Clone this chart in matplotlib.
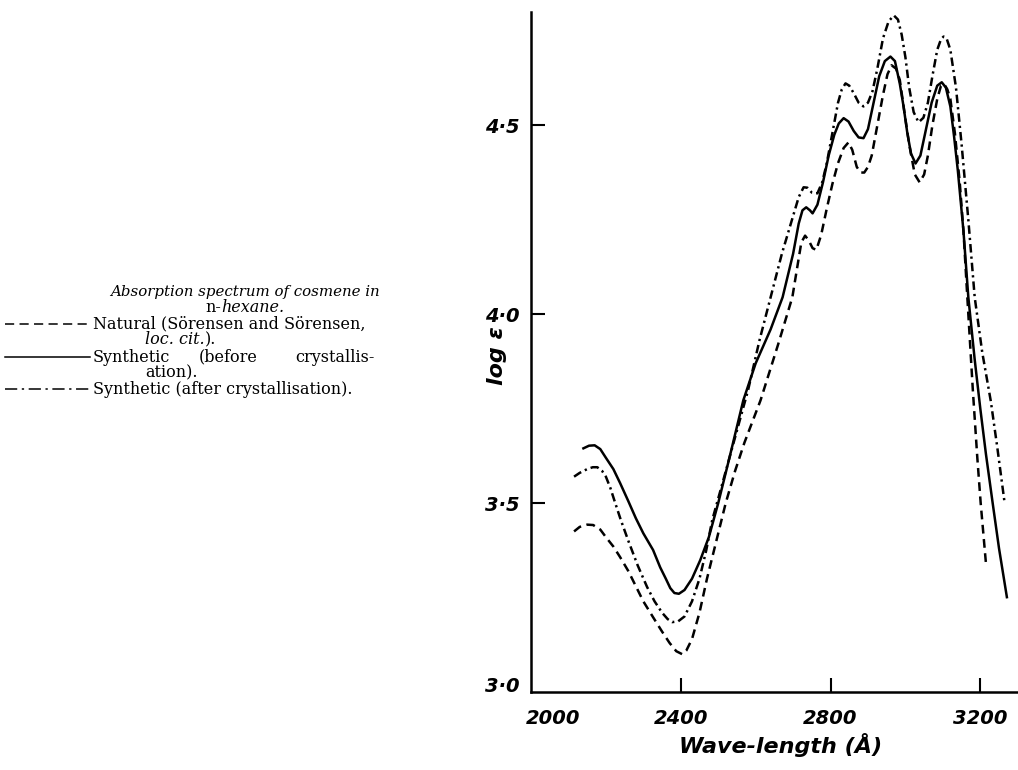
"""Absorption spectrum of cosmene in n-hexane (log ε vs wave-length)."""
import matplotlib

matplotlib.use("Agg")
import matplotlib.pyplot as plt
from matplotlib.lines import Line2D

W, H = 1018, 770

# wave-length (Å) and log ε
natural_wl = [2115, 2130, 2150, 2166, 2185, 2200, 2220, 2238, 2260, 2280, 2300,
              2326, 2350, 2370, 2388, 2404, 2415, 2430, 2450, 2470, 2495, 2520,
              2545, 2570, 2613, 2660, 2698, 2712, 2722, 2732, 2742, 2752, 2762,
              2775, 2790, 2805, 2820, 2835, 2848, 2858, 2870, 2880, 2890, 2900,
              2910, 2925, 2940, 2952, 2963, 2975, 2985, 2998, 3010, 3025, 3038,
              3050, 3060, 3072, 3085, 3095, 3103, 3112, 3120, 3132, 3145, 3155,
              3165, 3180, 3192, 3201, 3215]
natural_le = [3.425, 3.437, 3.443, 3.442, 3.43, 3.41, 3.385, 3.357, 3.32, 3.28, 3.24,
              3.198, 3.16, 3.13, 3.108, 3.10, 3.11, 3.14, 3.21, 3.30, 3.40, 3.50,
              3.585, 3.66, 3.772, 3.92, 4.045, 4.13, 4.19, 4.208, 4.195, 4.175, 4.17,
              4.21, 4.28, 4.345, 4.40, 4.44, 4.455, 4.435, 4.39, 4.375, 4.375, 4.39,
              4.42, 4.50, 4.58, 4.635, 4.659, 4.65, 4.62, 4.53, 4.45, 4.37, 4.349,
              4.37, 4.42, 4.50, 4.57, 4.605, 4.61, 4.595, 4.57, 4.48, 4.35, 4.22,
              4.05, 3.80, 3.62, 3.50, 3.341]

before_wl = [2140, 2155, 2170, 2185, 2200, 2220, 2238, 2260, 2280, 2300, 2326,
             2345, 2360, 2372, 2383, 2395, 2410, 2430, 2452, 2475, 2500, 2530,
             2567, 2600, 2640, 2672, 2700, 2715, 2725, 2735, 2745, 2752, 2765,
             2780, 2795, 2810, 2822, 2835, 2848, 2862, 2875, 2888, 2900, 2915,
             2930, 2945, 2960, 2972, 2985, 2995, 3005, 3015, 3027, 3040, 3055,
             3070, 3085, 3097, 3108, 3120, 3130, 3140, 3155, 3168, 3185, 3200,
             3215, 3233, 3250, 3271]
before_le = [3.645, 3.652, 3.653, 3.643, 3.62, 3.59, 3.553, 3.505, 3.46, 3.42, 3.376,
             3.33, 3.30, 3.275, 3.262, 3.26, 3.27, 3.30, 3.349, 3.41, 3.50, 3.62,
             3.772, 3.87, 3.96, 4.045, 4.16, 4.24, 4.275, 4.283, 4.275, 4.267, 4.29,
             4.35, 4.42, 4.475, 4.505, 4.519, 4.51, 4.485, 4.468, 4.466, 4.49, 4.56,
             4.63, 4.67, 4.682, 4.67, 4.61, 4.55, 4.48, 4.425, 4.399, 4.42, 4.49,
             4.56, 4.605, 4.614, 4.60, 4.55, 4.47, 4.38, 4.22, 4.045, 3.88, 3.75,
             3.63, 3.50, 3.38, 3.251]

after_wl = [2115, 2130, 2150, 2165, 2177, 2190, 2200, 2212, 2225, 2240, 2260,
            2285, 2310, 2330, 2350, 2365, 2377, 2393, 2410, 2430, 2450, 2468,
            2484, 2505, 2530, 2555, 2580, 2610, 2640, 2670, 2700, 2715, 2728,
            2738, 2750, 2765, 2778, 2790, 2805, 2820, 2830, 2840, 2850, 2862,
            2875, 2888, 2900, 2912, 2925, 2940, 2955, 2969, 2980, 2990, 3000,
            3010, 3022, 3035, 3048, 3060, 3072, 3085, 3095, 3102, 3110, 3120,
            3135, 3150, 3168, 3185, 3205, 3228, 3245, 3265]
after_le = [3.57, 3.58, 3.59, 3.595, 3.595, 3.585, 3.57, 3.54, 3.50, 3.455, 3.40,
            3.335, 3.278, 3.24, 3.21, 3.193, 3.185, 3.187, 3.20, 3.24, 3.30, 3.375,
            3.455, 3.53, 3.62, 3.71, 3.80, 3.93, 4.045, 4.16, 4.26, 4.31, 4.336,
            4.335, 4.322, 4.32, 4.35, 4.40, 4.48, 4.56, 4.595, 4.611, 4.605, 4.585,
            4.56, 4.55, 4.56, 4.59, 4.65, 4.73, 4.775, 4.791, 4.78, 4.74, 4.68,
            4.60, 4.535, 4.508, 4.52, 4.56, 4.63, 4.70, 4.728, 4.735, 4.73, 4.70,
            4.60, 4.45, 4.25, 4.045, 3.90, 3.77, 3.65, 3.50]

x_ticks = [2000, 2400, 2800, 3200]
x_labels = ["2000", "2400", "2800", "3200"]
y_ticks = [3.0, 3.5, 4.0, 4.5]
y_labels = ["3·0", "3·5", "4·0", "4·5"]

DASHED = (3.5, 2.2)
DASHDOT = (3.4, 1.6, 0.9, 1.6)
LW = 1.8


def px(x, y):
    """pixel (from top-left) -> figure fraction"""
    return x / W, 1 - y / H


def text_run(fig, x, y, pieces, ha="left", **kw):
    """put (string, style) pieces side by side starting at pixel x"""
    r = fig.canvas.get_renderer()
    arts = []
    for s, style in pieces:
        t = fig.text(*px(x, y), s, ha="left", va="center", style=style, **kw)
        x += t.get_window_extent(r).width
        arts.append(t)
    if ha == "center":
        shift = (x - arts[0].get_window_extent(r).x0) / 2
        for t in arts:
            tx, ty = t.get_position()
            t.set_position((tx - shift / W, ty))


fig = plt.figure(figsize=(W / 100, H / 100), dpi=100)
x0, y0 = px(531, 692)
x1, y1 = px(W + 2, 12)
ax = fig.add_axes([x0, y0, x1 - x0, y1 - y0])

ax.plot(natural_wl, natural_le, color="black", lw=LW, dashes=DASHED)
ax.plot(before_wl, before_le, color="black", lw=LW)
ax.plot(after_wl, after_le, color="black", lw=LW, dashes=DASHDOT)

ax.set_xlim(2000, 3306)
ax.set_ylim(3.0, 4.8)
for s in ("top", "right"):
    ax.spines[s].set_visible(False)
for s in ("left", "bottom"):
    ax.spines[s].set_linewidth(1.8)

tick_font = dict(family="DejaVu Sans", weight="bold", style="oblique", size=14)
ax.set_xticks(x_ticks[1:])
ax.set_xticklabels(x_labels[1:], **tick_font)
ax.set_yticks(y_ticks[1:])
ax.set_yticklabels(y_labels[1:], **tick_font)
ax.tick_params(axis="x", direction="in", length=10, width=1.5, pad=12)
ax.tick_params(axis="y", direction="in", length=10, width=1.5, pad=8)
# origin labels sit at the corner
ax.annotate(y_labels[0], xy=(0, 0), xycoords="axes fraction",
            xytext=(-8, 4), textcoords="offset points",
            ha="right", va="center", **tick_font)
ax.annotate(x_labels[0], xy=(0, 0), xycoords="axes fraction",
            xytext=(-4, -12), textcoords="offset points",
            ha="left", va="top", **tick_font)

ax.set_xlabel("Wave-length (Å)", family="DejaVu Sans", weight="bold",
              style="oblique", size=16)
ax.xaxis.set_label_coords(0.51, -0.06)
ax.set_ylabel("log ε", family="DejaVu Sans", weight="bold", style="oblique",
              size=16)
ax.yaxis.set_label_coords(-0.05, 0.495)

# key / caption on the left
serif = dict(family="DejaVu Serif", size=11.5)
fig.text(*px(245, 292), "Absorption spectrum of cosmene in", ha="center",
         va="center", style="italic", family="DejaVu Serif", size=10.8)
text_run(fig, 245, 307, [("n-", "normal"), ("hexane.", "italic")],
         ha="center", **serif)

fig.text(*px(93, 324), "Natural (Sörensen and Sörensen,", ha="left",
         va="center", **serif)
text_run(fig, 145, 340, [("loc. cit.", "italic"), (").", "normal")], **serif)
fig.text(*px(93, 357), "Synthetic", ha="left", va="center", **serif)
fig.text(*px(228, 357), "(before", ha="center", va="center", **serif)
fig.text(*px(375, 357), "crystallis-", ha="right", va="center", **serif)
fig.text(*px(145, 373), "ation).", ha="left", va="center", **serif)
fig.text(*px(93, 389), "Synthetic (after crystallisation).", ha="left",
         va="center", **serif)

for yy, dash in ((324, (6, 3.5)), (357, None), (389, (8, 3, 1.5, 3))):
    (xa, ya), (xb, _) = px(5, yy), px(90, yy)
    ln = Line2D([xa, xb], [ya, ya], transform=fig.transFigure, color="black",
                lw=1.1)
    if dash:
        ln.set_dashes(dash)
    fig.add_artist(ln)

fig.savefig("out.png", dpi=100)
